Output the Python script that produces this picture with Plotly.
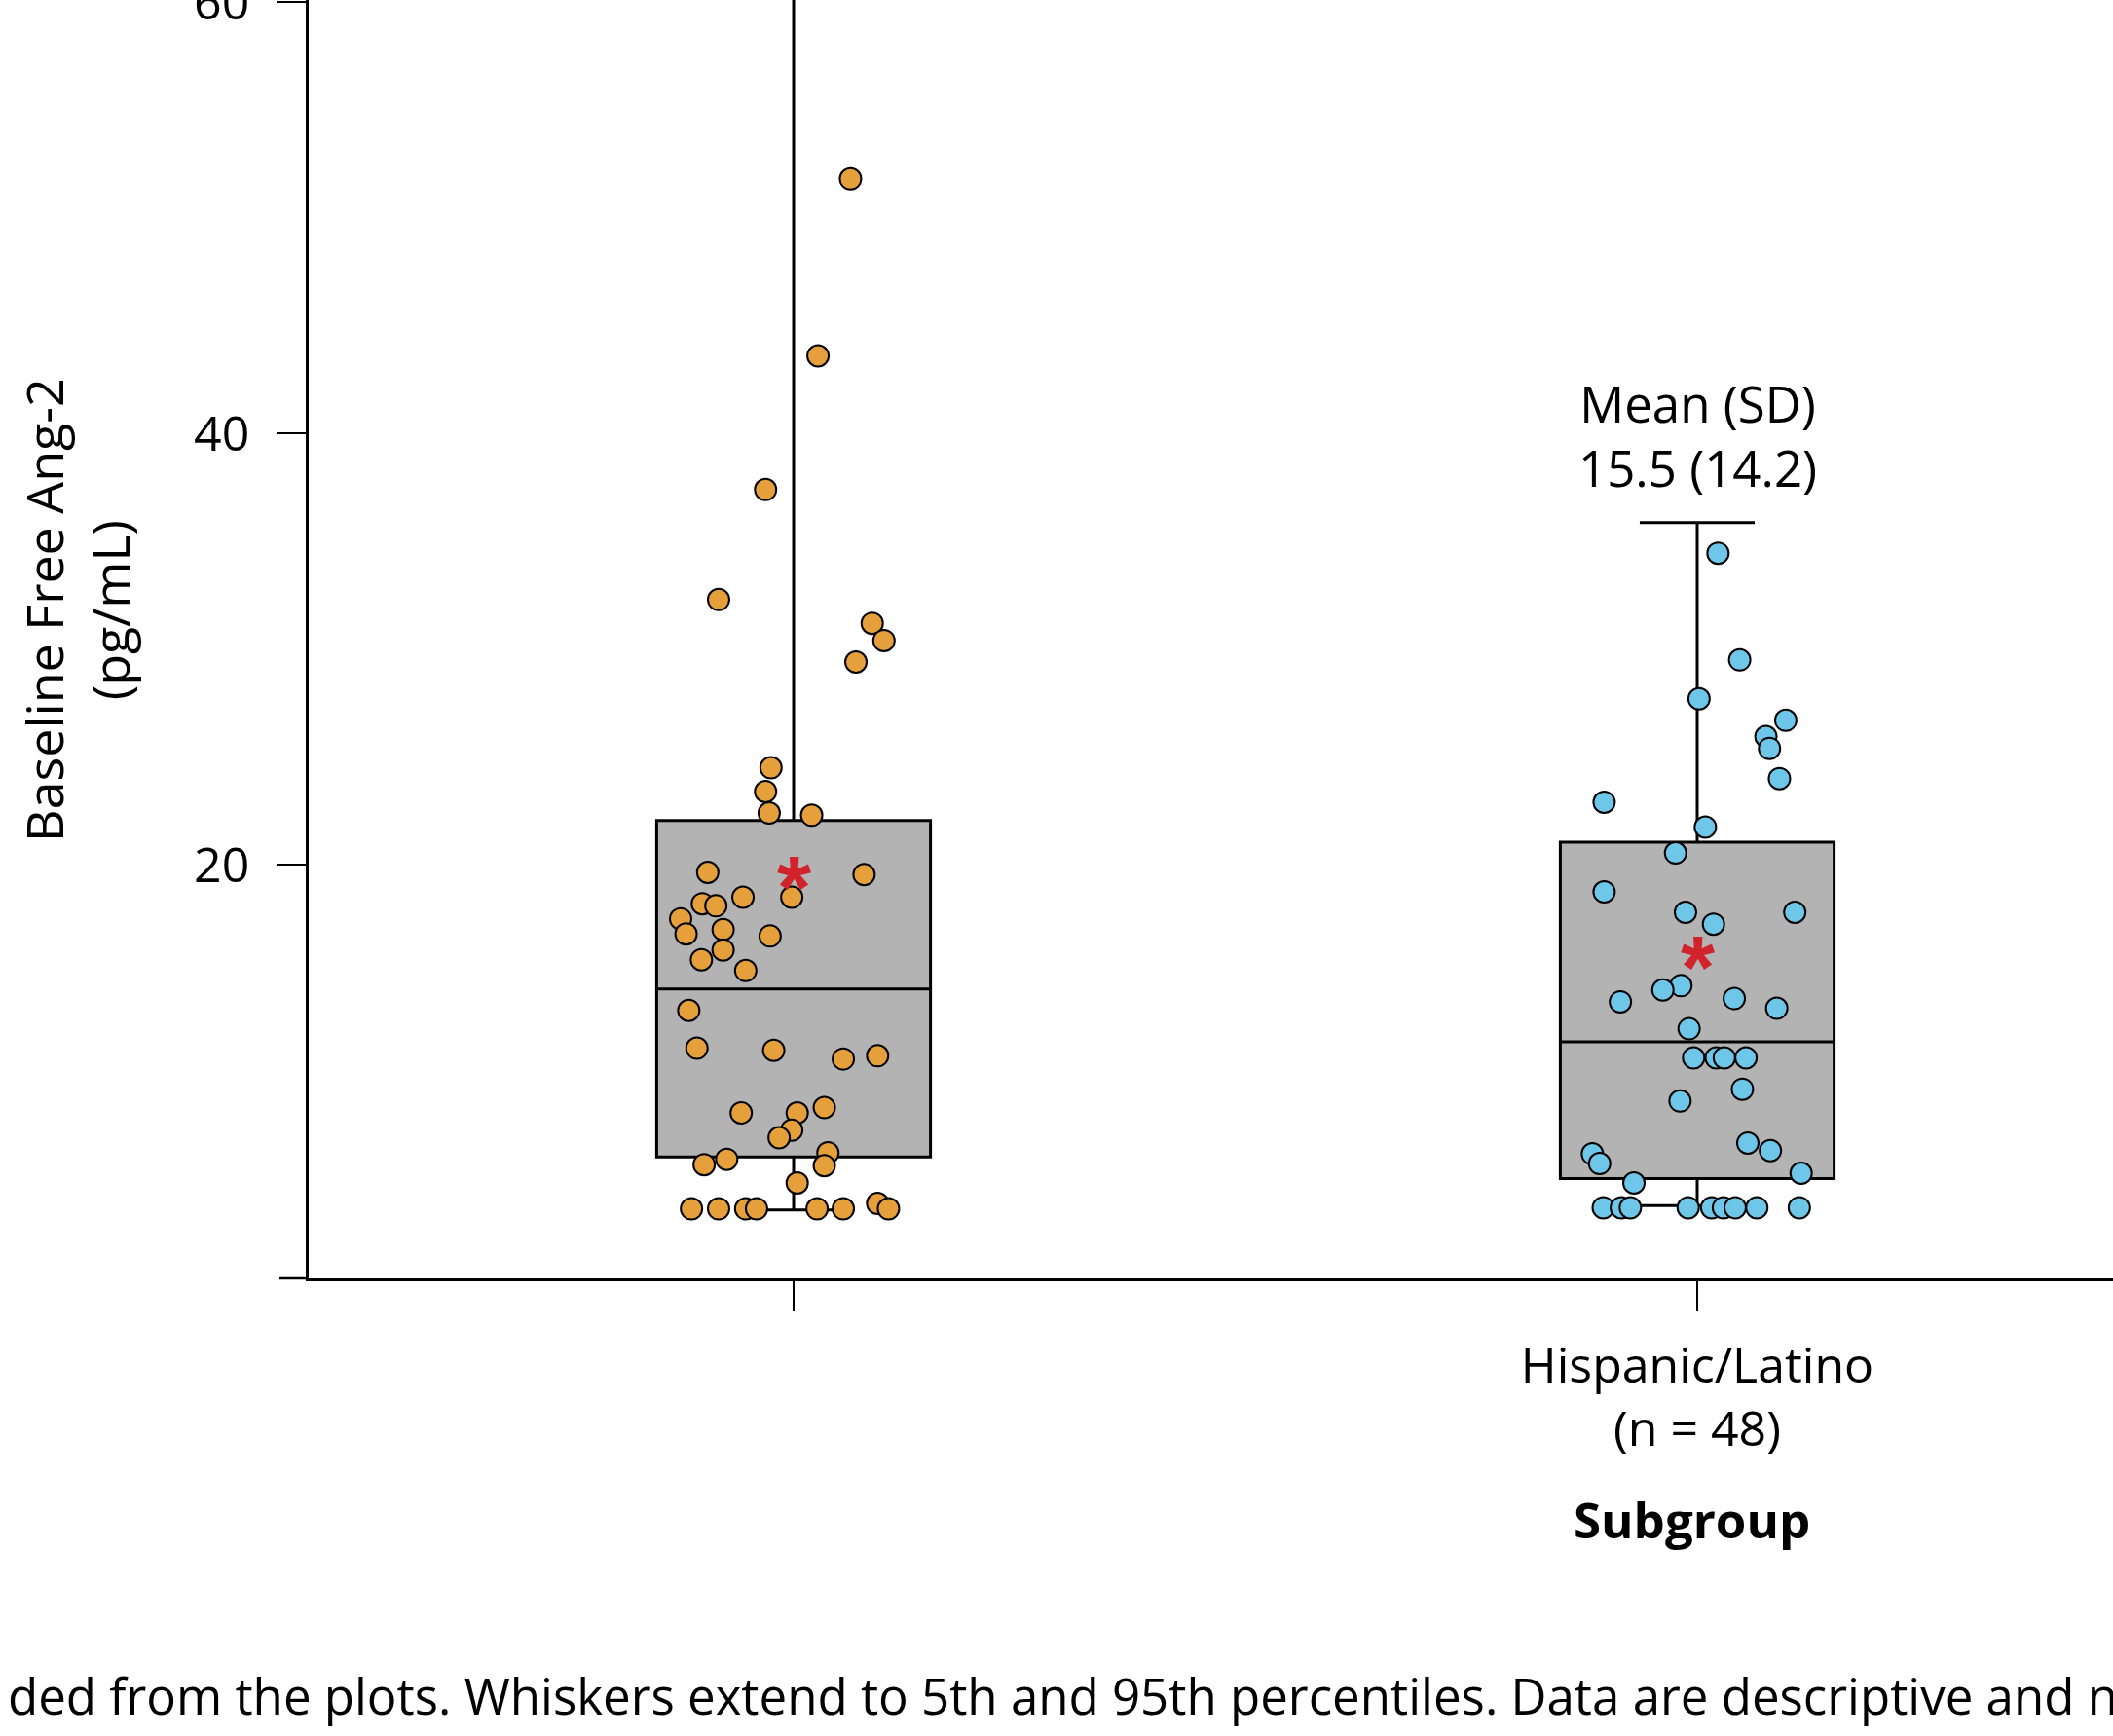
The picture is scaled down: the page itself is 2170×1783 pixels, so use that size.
import plotly.graph_objects as go

# ---------------- data ----------------
category_positions = [0, 1]
category_labels = ["", "Hispanic/Latino<br>(n = 48)"]

# box statistics (5th pct, Q1, median, Q3, 95th pct)
orange_stats = dict(lowerfence=4.0, q1=6.46, median=14.25, q3=22.05, upperfence=62.0)
blue_stats = dict(lowerfence=4.2, q1=5.45, median=11.8, q3=21.05, upperfence=35.87)

means = [19.57, 15.86]
blue_mean_sd_text = "Mean (SD)<br>15.5 (14.2)"

orange_values = [51.8, 43.6, 37.4, 32.3, 31.2, 30.4, 29.4, 24.5, 23.4, 22.4, 22.3,
                 19.65, 19.55, 18.5, 18.5, 18.2, 18.1, 17.5, 16.8, 17.0, 16.7, 16.05,
                 15.6, 15.1, 13.25, 11.5, 11.4, 11.0, 11.15, 8.5, 8.5, 8.75, 7.7, 7.35,
                 6.1, 6.35, 6.65, 6.05, 5.25, 4.05, 4.05, 4.05, 4.05, 4.05, 4.05, 4.3, 4.05]
orange_jitter = [0.063, 0.027, -0.031, -0.083, 0.087, 0.100, 0.069, -0.025, -0.031, -0.027, 0.020,
                 -0.095, 0.078, -0.002, -0.056, -0.101, -0.086, -0.125, -0.119, -0.078, -0.026, -0.078,
                 -0.102, -0.053, -0.116, -0.107, -0.022, 0.055, 0.093, -0.058, 0.004, 0.034, -0.002, -0.016,
                 -0.099, -0.074, 0.038, 0.034, 0.004, -0.113, -0.083, -0.053, -0.041, 0.026, 0.055, 0.093, 0.105]

blue_values = [34.45, 29.5, 27.7, 26.7, 25.95, 25.4, 24.0, 22.9, 21.75, 20.55, 18.75, 17.8,
               17.25, 17.8, 14.4, 14.2, 13.65, 13.8, 13.35, 12.4, 11.05, 11.05, 11.05, 11.05,
               9.6, 9.05, 7.1, 6.75, 6.6, 6.15, 5.7, 5.25,
               4.1, 4.1, 4.1, 4.1, 4.1, 4.1, 4.1, 4.1, 4.1]
blue_jitter = [0.023, 0.047, 0.002, 0.098, 0.076, 0.080, 0.091, -0.103, 0.009, -0.024, -0.103, -0.013,
               0.018, 0.108, -0.018, -0.038, -0.085, 0.041, 0.088, -0.009, -0.004, 0.021, 0.030, 0.054,
               0.050, -0.019, 0.056, 0.081, -0.116, -0.108, 0.115, -0.070,
               -0.104, -0.084, -0.074, -0.010, 0.016, 0.029, 0.042, 0.066, 0.113]

y_ticks = [20, 40, 60]
y_title = "Baseline Free Ang-2<br>(pg/mL)"
x_title = "<b>Subgroup</b>"
footnote = "ded from the plots. Whiskers extend to 5th and 95th percentiles. Data are descriptive and n"

# ---------------- style ----------------
FONT = "Open Sans"
ORANGE = "#E5A03C"
BLUE = "#6EC6E8"
BOXFILL = "#B3B3B3"
RED = "#D2232D"

W, H = 2170, 1783
ML, MR, MT, MB = 317, 0, 0, 470

fig = go.Figure()

for pos, st in zip(category_positions, [orange_stats, blue_stats]):
    fig.add_trace(go.Box(
        x=[pos], q1=[st["q1"]], median=[st["median"]], q3=[st["q3"]],
        lowerfence=[st["lowerfence"]], upperfence=[st["upperfence"]],
        width=0.303, whiskerwidth=0.42, boxpoints=False,
        fillcolor=BOXFILL, line=dict(color="black", width=3),
        showlegend=False, hoverinfo="skip"))

fig.add_trace(go.Scatter(
    x=[category_positions[0] + j for j in orange_jitter], y=orange_values,
    mode="markers", marker=dict(size=22, color=ORANGE, line=dict(color="black", width=2)),
    showlegend=False))
fig.add_trace(go.Scatter(
    x=[category_positions[1] + j for j in blue_jitter], y=blue_values,
    mode="markers", marker=dict(size=22, color=BLUE, line=dict(color="black", width=2)),
    showlegend=False))

annotations = []
for pos, m in zip(category_positions, means):
    annotations.append(dict(x=pos, y=m, xref="x", yref="y", text="<b>*</b>", showarrow=False,
                            font=dict(family="Liberation Sans", size=90, color=RED),
                            xanchor="center", yanchor="middle", yshift=-14))

annotations.append(dict(x=category_positions[1], y=blue_stats["upperfence"], xref="x", yref="y",
                        text=blue_mean_sd_text, showarrow=False, xanchor="center", yanchor="bottom",
                        yshift=20, font=dict(family=FONT, size=51, color="black")))

pw = W - ML - MR
ph = H - MT - MB
annotations.append(dict(x=(78 - ML) / pw, y=(ph - 627) / ph, xref="paper", yref="paper",
                        text=y_title, textangle=-90, showarrow=False, xanchor="center", yanchor="middle",
                        font=dict(family=FONT, size=52, color="black")))
annotations.append(dict(x=(1737 - ML) / pw, y=(ph - 1560) / ph, xref="paper", yref="paper",
                        text=x_title, showarrow=False, xanchor="center", yanchor="middle",
                        font=dict(family=FONT, size=51, color="black")))
annotations.append(dict(x=(6 - ML) / pw, y=(ph - 1741) / ph, xref="paper", yref="paper",
                        text=footnote, showarrow=False, xanchor="left", yanchor="middle",
                        font=dict(family=FONT, size=51, color="black")))

x0 = (ML - 815) / 928
x1 = (W - 815) / 928
fig.update_layout(
    width=W, height=H,
    margin=dict(l=ML, r=MR, t=MT, b=MB, pad=0, autoexpand=False),
    paper_bgcolor="white", plot_bgcolor="white",
    font=dict(family=FONT, color="black"),
    annotations=annotations,
    shapes=[dict(type="line", xref="paper", yref="paper", x0=-30 / pw, x1=0, y0=0, y1=0,
                 line=dict(color="black", width=2.5))],
    xaxis=dict(range=[x0, x1], tickvals=category_positions, ticktext=category_labels,
               showline=True, linecolor="black", linewidth=2.5, ticks="outside", ticklen=30,
               tickwidth=2, tickcolor="black", showgrid=False, zeroline=False, automargin=False,
               tickfont=dict(family=FONT, size=50, color="black"), ticklabelstandoff=14),
    yaxis=dict(range=[0.826, 60.10], tickvals=y_ticks, showline=True, linecolor="black",
               linewidth=2.5, ticks="outside", ticklen=30, tickwidth=2, tickcolor="black",
               showgrid=False, zeroline=False, automargin=False, ticklabeloverflow="allow",
               tickfont=dict(family=FONT, size=50, color="black"), ticklabelstandoff=18),
)

fig.write_html("out.html", config={"displayModeBar": False},
               post_script="document.body.style.margin='0px';document.body.style.overflow='hidden';")
